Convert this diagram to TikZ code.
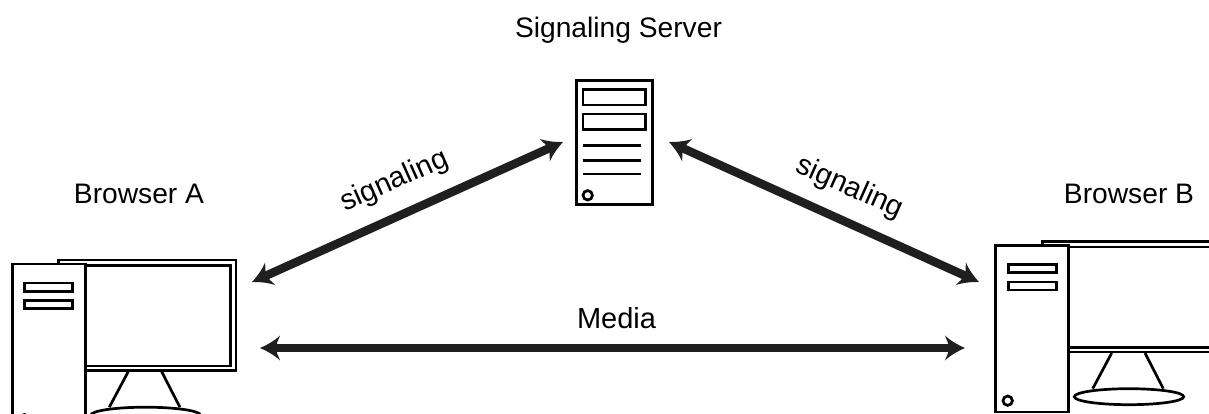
\documentclass[tikz,border=0pt]{standalone}
\usepackage{fontspec}
\setmainfont{Liberation Sans}
\usetikzlibrary{arrows.meta}
\pgfdeclarearrow{
  name=Barb,
  setup code={
    \pgfarrowssettipend{0pt}
    \pgfarrowssetlineend{-10pt}
    \pgfarrowssetvisualbackend{-14pt}
    \pgfarrowssetbackend{-20pt}
    \pgfarrowshullpoint{0pt}{0pt}
    \pgfarrowshullpoint{-20pt}{12.5pt}
    \pgfarrowshullpoint{-20pt}{-12.5pt}
  },
  drawing code={
    \pgfpathmoveto{\pgfpoint{0pt}{0pt}}
    \pgfpathcurveto{\pgfpoint{-7pt}{3pt}}{\pgfpoint{-15pt}{7.5pt}}{\pgfpoint{-20pt}{12.5pt}}
    \pgfpathcurveto{\pgfpoint{-18pt}{7pt}}{\pgfpoint{-16pt}{4pt}}{\pgfpoint{-16pt}{0pt}}
    \pgfpathcurveto{\pgfpoint{-16pt}{-4pt}}{\pgfpoint{-18pt}{-7pt}}{\pgfpoint{-20pt}{-12.5pt}}
    \pgfpathcurveto{\pgfpoint{-15pt}{-7.5pt}}{\pgfpoint{-7pt}{-3pt}}{\pgfpoint{0pt}{0pt}}
    \pgfpathclose
    \pgfusepathqfill
  }
}
\tikzset{
  x=1pt,y=-1pt,
  outline/.style={draw=black,line width=2.7pt,fill=white},
  stroke/.style={draw=black,line width=2.7pt},
  label/.style={font=\fontsize{28.2}{32}\selectfont,inner sep=0pt,text=black,anchor=base},
  tilted/.style={font=\fontsize{29}{32}\selectfont,inner sep=0pt,text=black},
  link/.style={draw=black!88,line width=8.5pt,{Barb}-{Barb}},
  computer/.pic={
    \path[stroke] (115.9,371.5) -- (96.9,407.2) (149.2,371.5) -- (167.5,407.2);
    \path[outline] (133.2,415.2) ellipse [x radius=54.7,y radius=8];
    \path[outline] (46.4,260) rectangle (223.6,370.5);
    \path[outline] (46.4,265.5) rectangle (218,366);
    \path[outline] (0,264) rectangle (72.8,430.5);
    \path[outline] (12.4,283) rectangle (60.4,291.3);
    \path[outline] (12.4,300.5) rectangle (60.4,308.5);
    \path[outline] (11.9,419.2) circle [radius=4.7];
  },
}
\begin{document}
\begin{tikzpicture}
\useasboundingbox (0,0) rectangle (1209,414);
\clip (0,0) rectangle (1209,414);
\fill[white] (0,0) rectangle (1209,414);
% Browser A
\pic at (12.4,0) {computer};
% Browser B
\pic at (995.8,-18.5) {computer};
% Server
\node[outline,minimum width=76pt,minimum height=124pt,inner sep=0pt] (server) at (614.5,142.5) {};
\path[outline] (583,89.5) rectangle (645.5,105);
\path[outline] (583,114) rectangle (645.5,129.5);
\path[stroke] (582.7,145.7) -- (641.3,145.7) (582.7,160.7) -- (641.3,160.7) (582.7,174) -- (641.3,174);
\path[outline] (587.7,195.3) circle [radius=4.7];
% Connector ends
\coordinate (sl) at (563,142);
\coordinate (sr) at (669,142);
\coordinate (al) at (252,282);
\coordinate (br) at (979,282);
\coordinate (am) at (260,348);
\coordinate (bm) at (965,348);
\draw[link] (al) -- (sl);
\draw[link] (sr) -- (br);
\draw[link] (am) -- (bm);
% Labels
\node[label] (ts) at (618.5,37.7) {Signaling Server};
\node[label] (ta) at (139,204) {Browser A};
\node[label] (tb) at (1129,204) {Browser B};
\node[label,font=\fontsize{29}{32}\selectfont] (tm) at (616.5,328.3) {Media};
\node[tilted,rotate=24] (t1) at (394.5,181.5) {signaling};
\node[tilted,rotate=-24] (t2) at (849.5,188) {signaling};
\end{tikzpicture}
\end{document}
